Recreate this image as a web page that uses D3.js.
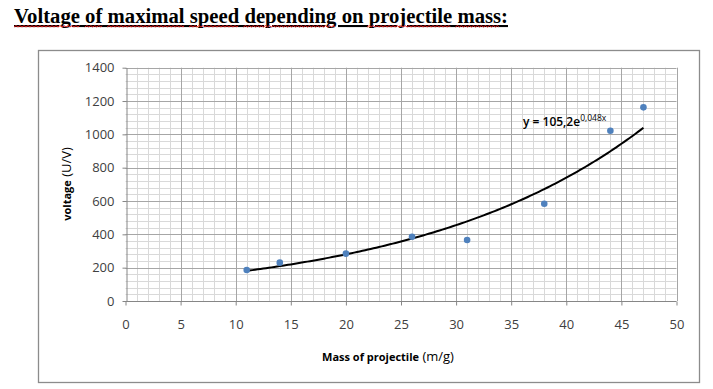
<!DOCTYPE html>
<html><head><meta charset="utf-8">
<script src="https://cdn.jsdelivr.net/npm/d3@7"></script>
<style>
html,body{margin:0;padding:0;background:#fff;}
svg{display:block;}
</style></head>
<body>
<svg id="c" width="713" height="389"></svg>
<script>
const mass = [11, 14, 20, 26, 31, 38, 44, 47];
const voltage = [186, 230, 284, 386, 366, 584, 1022, 1162];
const xTicks = [0, 5, 10, 15, 20, 25, 30, 35, 40, 45, 50];
const yTicks = [0, 200, 400, 600, 800, 1000, 1200, 1400];
const titleText = "Voltage of maximal speed depending on projectile mass:";
const eqMain = "y = 105,2e";
const eqSup = "0,048x";

const svg = d3.select("#c");
const x = d3.scaleLinear().domain([0, 50]).range([125.5, 676.5]);
const y = d3.scaleLinear().domain([0, 1400]).range([301, 67.7]);

// Title
const title = svg.append("text").attr("x", 14).attr("y", 23)
  .attr("font-family", "Liberation Serif, Times New Roman, serif")
  .attr("font-weight", "bold").attr("font-size", 20.8)
  .attr("text-decoration", "underline").attr("fill", "#000")
  .text(titleText);
const tnode = title.node();
const tw = tnode.getComputedTextLength();
if (Math.abs(tw - 494) > 2) title.attr("textLength", 494).attr("lengthAdjust", "spacingAndGlyphs");
const sc = 494 / tw;
// Red wavy spell-check underline under words
const words = titleText.split(" ");
const skip = new Set(["on"]);
let idx = 0;
words.forEach(w => {
  const start = idx, len = w.replace(":", "").length;
  idx += w.length + 1;
  if (skip.has(w)) return;
  const x0 = 14 + sc * (start > 0 ? tnode.getSubStringLength(0, start) : 0);
  const x1 = 14 + sc * tnode.getSubStringLength(0, start + len);
  let d = `M${x0},27`;
  for (let px = x0, k = 0; px < x1; px += 2, k++) d += `L${Math.min(px + 2, x1)},${k % 2 ? 27 : 25.6}`;
  svg.append("path").attr("d", d).attr("fill", "none").attr("stroke", "#e51a1a").attr("stroke-width", 1);
});

// Chart frame
svg.append("rect").attr("x", 38.5).attr("y", 50.5).attr("width", 661).attr("height", 332)
  .attr("fill", "#fff").attr("stroke", "#8c8c8c").attr("stroke-width", 1.3);

// Grid
const g = svg.append("g");
const minorX = d3.range(0, 51, 1).filter(v => v % 5 !== 0);
const minorY = d3.range(0, 1401, 40).filter(v => v % 200 !== 0);
g.selectAll(".mx").data(minorX).join("line")
  .attr("x1", d => Math.round(x(d)) + 0.5).attr("x2", d => Math.round(x(d)) + 0.5)
  .attr("y1", y(1400)).attr("y2", y(0)).attr("stroke", "#d9d9d9");
g.selectAll(".my").data(minorY).join("line")
  .attr("y1", d => Math.round(y(d)) + 0.5).attr("y2", d => Math.round(y(d)) + 0.5)
  .attr("x1", x(0)).attr("x2", x(50)).attr("stroke", "#d9d9d9");
g.selectAll(".Mx").data(xTicks.slice(1)).join("line")
  .attr("x1", d => Math.round(x(d)) + 0.5).attr("x2", d => Math.round(x(d)) + 0.5)
  .attr("y1", y(1400)).attr("y2", y(0)).attr("stroke", "#a6a6a6");
g.selectAll(".My").data(yTicks.slice(1)).join("line")
  .attr("y1", d => Math.round(y(d)) + 0.5).attr("y2", d => Math.round(y(d)) + 0.5)
  .attr("x1", x(0)).attr("x2", x(50)).attr("stroke", "#a6a6a6");

// Axes
const tickFont = "Open Sans, Liberation Sans, sans-serif";
const yAxis = svg.append("g").attr("transform", `translate(${Math.round(x(0)) + 0.5},0)`)
  .call(d3.axisLeft(y).tickValues(yTicks).tickFormat(d3.format("d")).tickSize(4).tickPadding(8).tickSizeOuter(0));
const xAxis = svg.append("g").attr("transform", `translate(0,${Math.round(y(0)) + 0.5})`)
  .call(d3.axisBottom(x).tickValues(xTicks).tickFormat(d3.format("d")).tickSize(4).tickPadding(14).tickSizeOuter(0));
[yAxis, xAxis].forEach(a => {
  a.selectAll("path,line").attr("stroke", "#868686");
  a.selectAll("text").attr("font-family", tickFont).attr("font-size", 13).attr("fill", "#404040");
});
xAxis.select(".domain").remove();
xAxis.append("line").attr("x1", x(0)).attr("x2", x(50)).attr("stroke", "#868686");

// Axis titles
const yt = svg.append("text").attr("transform", "translate(71,184) rotate(-90)")
  .attr("text-anchor", "middle").attr("fill", "#000").attr("font-family", tickFont);
yt.append("tspan").attr("font-weight", "bold").attr("font-size", 11).text("voltage");
yt.append("tspan").attr("font-size", 13).text("  (U/V)");
const xt = svg.append("text").attr("x", 388).attr("y", 361)
  .attr("text-anchor", "middle").attr("fill", "#000").attr("font-family", tickFont);
xt.append("tspan").attr("font-weight", "bold").attr("font-size", 11).text("Mass of projectile");
xt.append("tspan").attr("font-size", 13).text(" (m/g)");

// Exponential trendline (least squares on ln y)
const lnV = voltage.map(Math.log);
const mx = d3.mean(mass), my = d3.mean(lnV);
const b = d3.sum(mass, (m, i) => (m - mx) * (lnV[i] - my)) / d3.sum(mass, m => (m - mx) ** 2);
const a = Math.exp(my - b * mx);
const xs = d3.range(d3.min(mass), d3.max(mass) + 0.001, 0.25);
svg.append("path").datum(xs)
  .attr("d", d3.line().x(d => x(d)).y(d => y(a * Math.exp(b * d))))
  .attr("fill", "none").attr("stroke", "#000").attr("stroke-width", 2);

// Points
svg.selectAll(".pt").data(mass).join("circle")
  .attr("cx", d => x(d)).attr("cy", (d, i) => y(voltage[i])).attr("r", 3.3)
  .attr("fill", "#4f81bd");

// Equation label
const eq = svg.append("text").attr("x", 523).attr("y", 126)
  .attr("font-family", tickFont).attr("font-size", 12).attr("font-weight", 600).attr("fill", "#000");
eq.append("tspan").text(eqMain);
eq.append("tspan").attr("font-size", 8.5).attr("font-weight", 400).attr("dy", -5).text(eqSup);
</script>
</body></html>
